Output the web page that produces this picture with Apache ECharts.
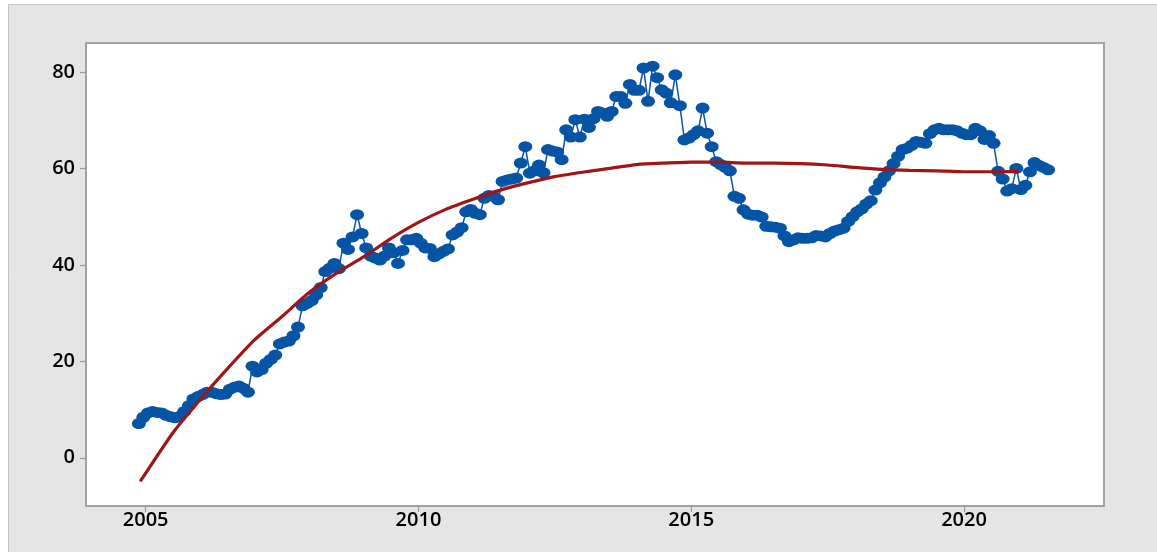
<!DOCTYPE html>
<html>
<head>
<meta charset="utf-8">
<script src="https://cdn.jsdelivr.net/npm/echarts@6/dist/echarts.min.js"></script>
<style>
  html, body { margin: 0; padding: 0; background: #ffffff; }
  #chart { width: 1157px; height: 552px; }
</style>
</head>
<body>
<div id="chart"></div>
<script>
// Monthly observations, first month at 2004 + 10.5/12
const startYear = 2004.875;
const monthly = [
  7.1, 8.4, 9.3, 9.6, 9.4, 9.3, 8.8, 8.5, 8.3, 8.6,
  9.6, 10.8, 12.2, 12.7, 13.1, 13.6, 13.6, 13.3, 13.1, 13.2,
  14.2, 14.6, 14.9, 14.4, 13.6, 19.0, 17.8, 18.3, 19.6, 20.4,
  21.3, 23.6, 24.0, 24.2, 25.3, 27.1, 31.5, 32.0, 32.6, 33.8,
  35.3, 38.6, 39.3, 40.3, 39.2, 44.5, 43.2, 45.8, 50.4, 46.5,
  43.5, 41.8, 41.4, 41.0, 41.8, 43.5, 42.5, 40.3, 43.0, 45.2,
  45.2, 45.5, 44.5, 43.5, 43.4, 41.7, 42.3, 42.8, 43.3, 46.2,
  46.8, 47.7, 51.0, 51.5, 50.7, 50.4, 53.8, 54.4, 54.2, 53.5,
  57.3, 57.6, 57.8, 58.0, 61.1, 64.5, 59.0, 59.5, 60.7, 59.1,
  63.9, 63.6, 63.4, 61.8, 68.0, 66.5, 70.1, 66.5, 70.2, 68.5,
  70.3, 71.8, 71.5, 70.8, 71.8, 74.9, 74.9, 73.5, 77.4, 76.2,
  76.2, 80.8, 73.9, 81.2, 78.8, 76.3, 75.6, 73.6, 79.4, 73.0,
  65.9, 66.3, 67.0, 67.8, 72.5, 67.3, 64.5, 61.4, 60.8, 60.2,
  59.5, 54.2, 53.8, 51.4, 50.5, 50.3, 50.3, 49.9, 48.0, 47.9,
  47.8, 47.6, 46.0, 44.8, 45.2, 45.6, 45.5, 45.5, 45.6, 46.1,
  46.0, 45.8, 46.5, 47.0, 47.3, 47.6, 49.0, 50.0, 51.0, 51.6,
  52.6, 53.3, 55.5, 57.0, 58.2, 59.5, 61.0, 62.5, 63.9, 64.2,
  64.8, 65.6, 65.4, 65.2, 67.2, 68.0, 68.3, 68.0, 68.0, 68.0,
  67.8, 67.3, 67.0, 67.0, 68.3, 67.8, 66.0, 66.8, 65.2, 59.4,
  57.8, 55.3, 55.8, 60.0, 55.6, 56.5, 59.3, 61.2, 60.6, 60.2,
  59.7
];

// Smoothed trend, sampled every half year
const trendYears = [
  2004.9, 2005.5, 2006.0, 2006.5, 2007.0, 2007.5, 2008.0, 2008.5, 2009.0, 2009.5,
  2010.0, 2010.5, 2011.0, 2011.5, 2012.0, 2012.5, 2013.0, 2013.5, 2014.0, 2014.5,
  2015.0, 2015.5, 2016.0, 2016.5, 2017.0, 2017.5, 2018.0, 2018.5, 2019.0, 2019.5,
  2020.0, 2020.5, 2021.0
];
const trendValues = [
  -4.9, 5.2, 12.1, 18.5, 24.5, 29.3, 34.3, 38.3, 41.7, 45.5,
  48.8, 51.5, 53.6, 55.5, 57.0, 58.3, 59.2, 60.0, 60.8, 61.1,
  61.3, 61.3, 61.1, 61.1, 61.0, 60.7, 60.2, 59.8, 59.6, 59.5,
  59.3, 59.3, 59.4
];

const xTicks = [2005, 2010, 2015, 2020];
const yTicks = [0, 20, 40, 60, 80];

const obsData = monthly.map((v, i) => [startYear + i / 12, v]);
const trendData = trendYears.map((y, i) => [y, trendValues[i]]);

const chart = echarts.init(document.getElementById('chart'), null, { renderer: 'canvas' });
const labelFont = { fontFamily: 'Open Sans', fontSize: 20, fontWeight: 600, color: '#000000' };
const tickStyle = { color: '#9a9a9a', width: 1.2 };

chart.setOption({
  backgroundColor: '#ffffff',
  animation: false,
  graphic: [{
    type: 'rect',
    z: -100,
    silent: true,
    shape: { x: 8.5, y: 4.5, width: 1170, height: 570 },
    style: { fill: '#e5e5e5', stroke: '#c4c4c4', lineWidth: 1 }
  }],
  grid: {
    left: 86, top: 43, right: 53, bottom: 46,
    show: true,
    backgroundColor: '#ffffff',
    borderColor: '#a3a3a3',
    borderWidth: 2
  },
  xAxis: {
    type: 'value',
    min: 2003.906,
    max: 2022.566,
    splitLine: { show: false },
    axisLine: { show: false, onZero: false },
    axisTick: { show: true, customValues: xTicks, length: 6, lineStyle: tickStyle },
    axisLabel: Object.assign({ customValues: xTicks, margin: 4, formatter: v => String(v) }, labelFont)
  },
  yAxis: {
    type: 'value',
    min: -10,
    max: 86,
    splitLine: { show: false },
    axisLine: { show: false, onZero: false },
    axisTick: { show: true, customValues: yTicks, length: 6, lineStyle: tickStyle },
    axisLabel: Object.assign({ customValues: yTicks, margin: 11, padding: [0, 0, 7, 0] }, labelFont)
  },
  series: [
    {
      type: 'line',
      data: obsData,
      symbol: 'circle',
      symbolSize: [14, 11],
      showAllSymbol: true,
      itemStyle: { color: '#0654a5' },
      lineStyle: { color: '#0654a5', width: 1.5 },
      z: 2
    },
    {
      type: 'line',
      data: trendData,
      symbol: 'none',
      smooth: 0.2,
      lineStyle: { color: '#9e1616', width: 3.2 },
      z: 3
    }
  ]
});
</script>
</body>
</html>
